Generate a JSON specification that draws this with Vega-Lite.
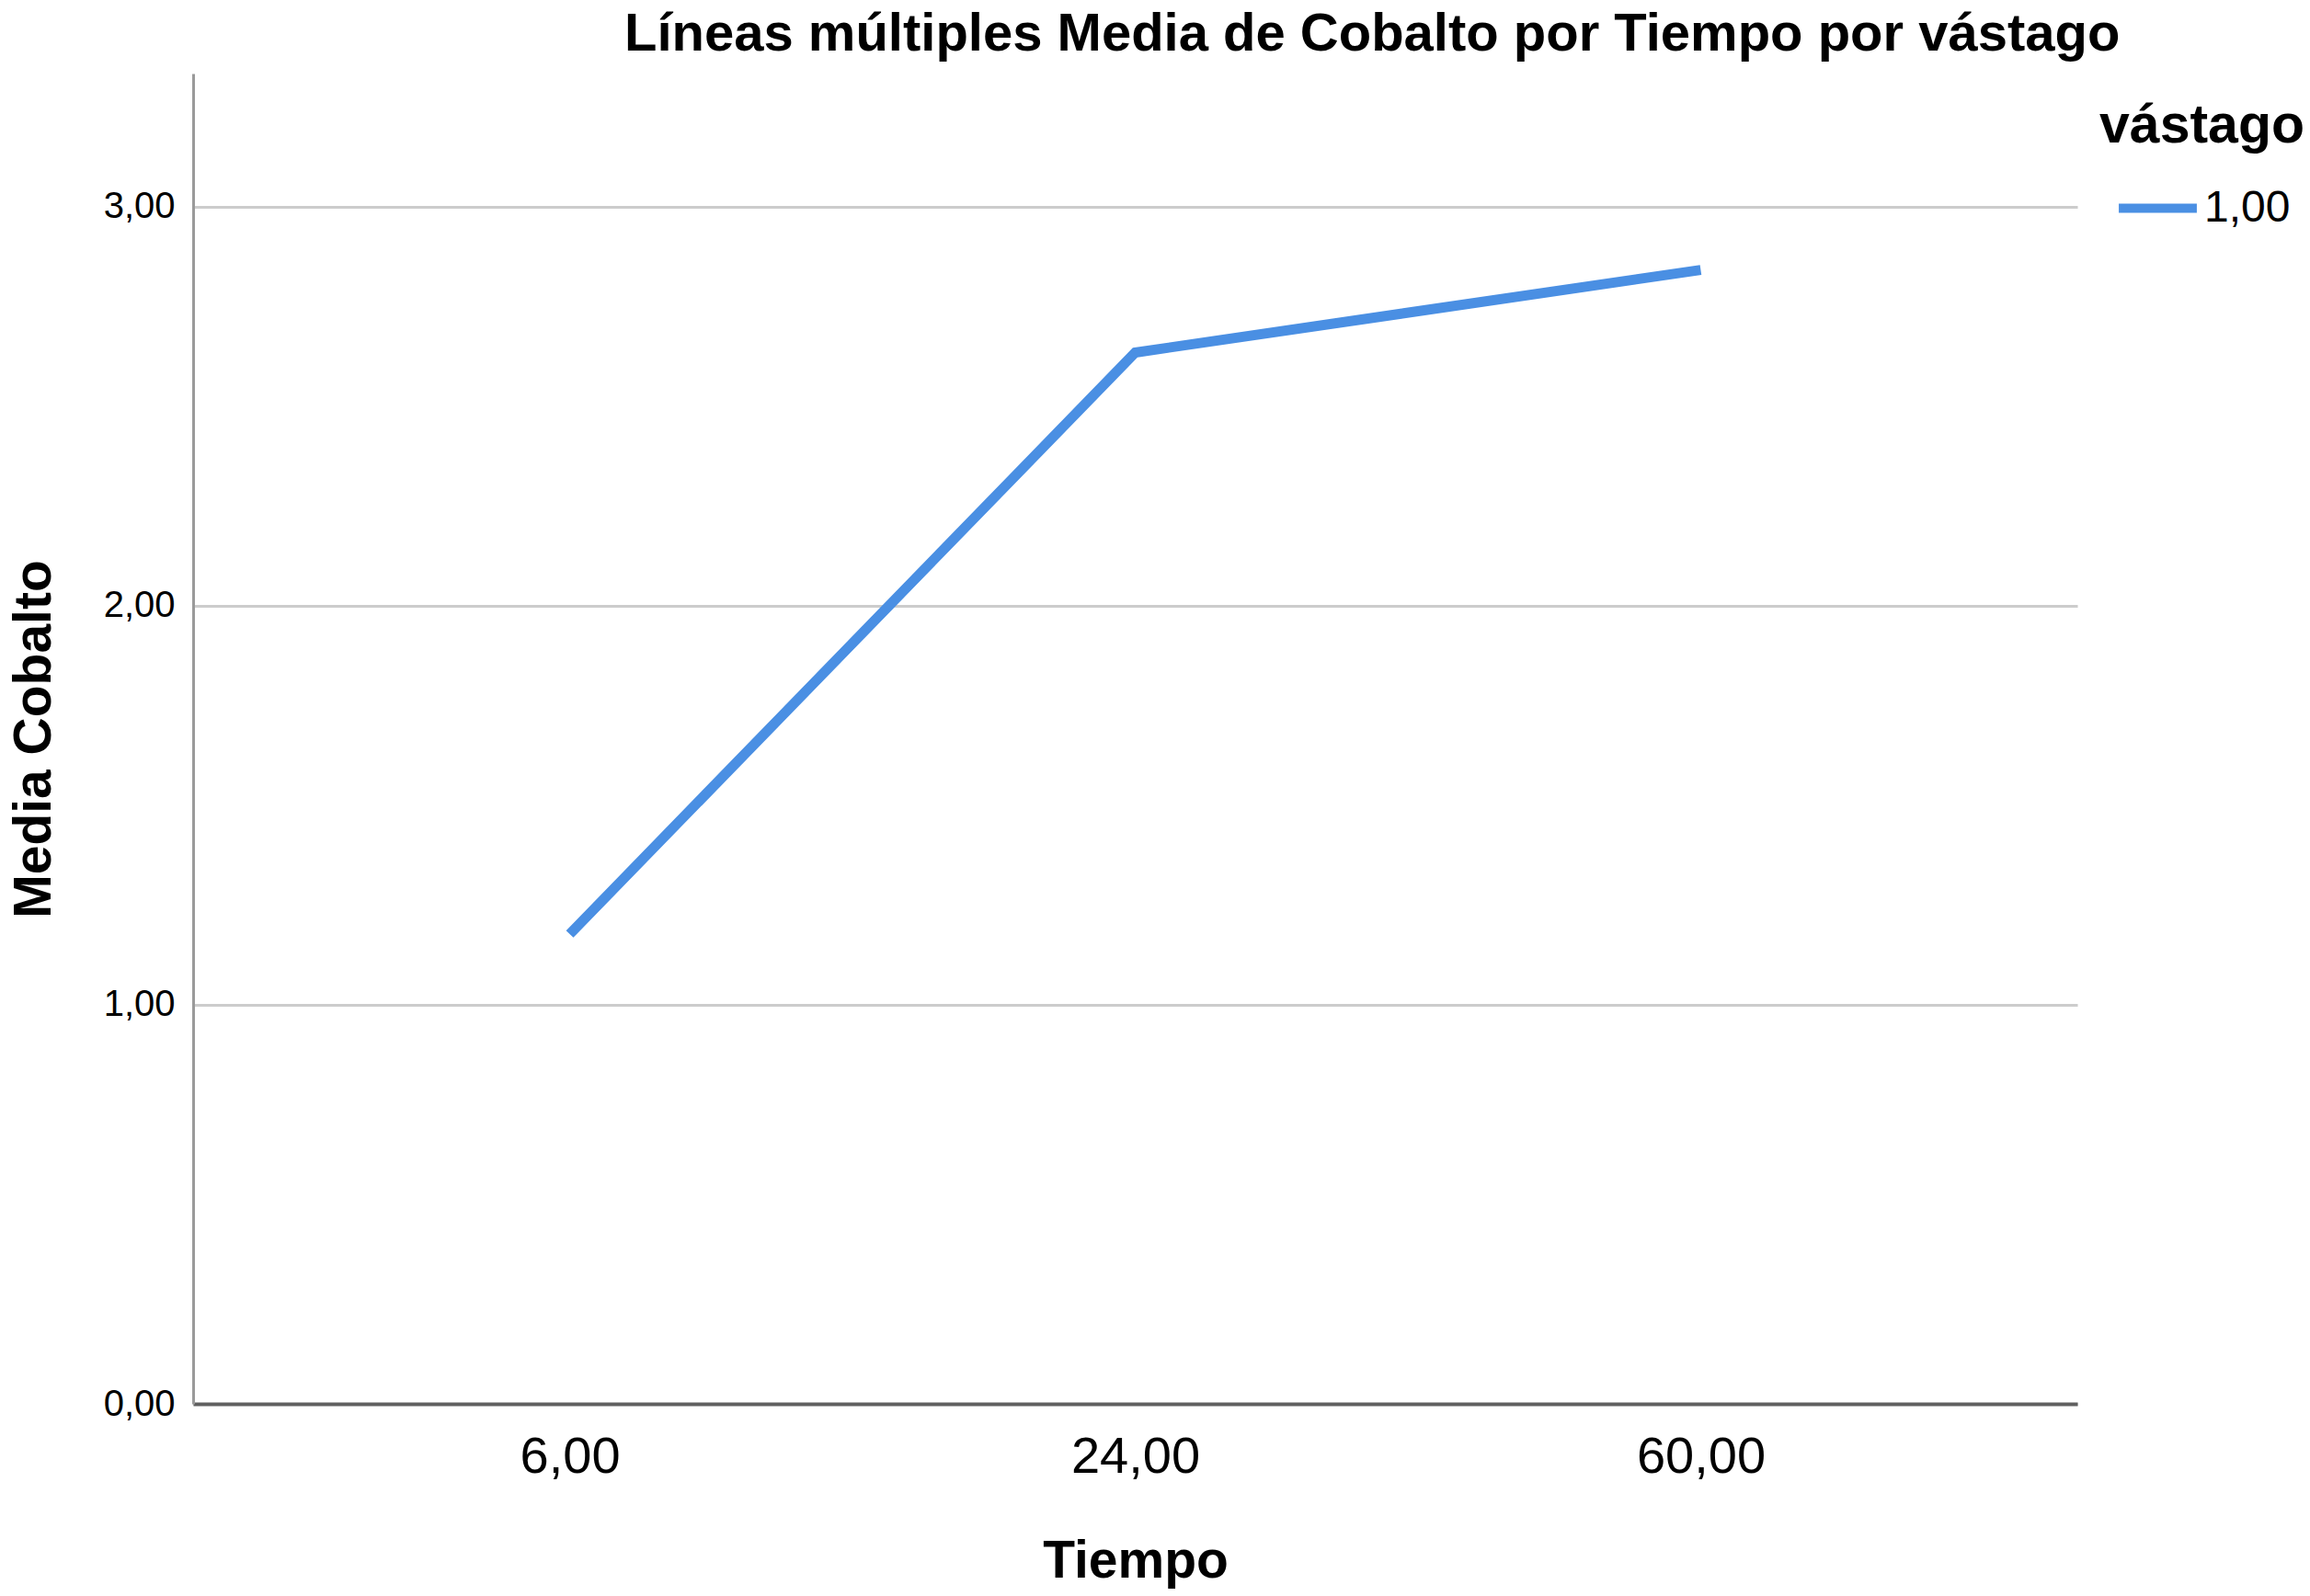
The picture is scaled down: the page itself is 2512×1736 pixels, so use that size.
{
  "$schema": "https://vega.github.io/schema/vega-lite/v6.json",
  "autosize": {"type": "none"},
  "padding": {"left": 210, "top": 80, "right": 253, "bottom": 209},
  "width": 2049,
  "height": 1447,
  "background": "white",
  "title": {
    "text": "Líneas múltiples Media de Cobalto por Tiempo por vástago",
    "font": "Liberation Sans",
    "fontSize": 58,
    "fontWeight": "bold",
    "color": "black",
    "anchor": "start",
    "frame": "group",
    "dx": 469,
    "offset": 13
  },
  "data": {
    "values": [
      {"Tiempo": 6, "Cobalto": 1.177, "vastago": "1,00"},
      {"Tiempo": 24, "Cobalto": 2.634, "vastago": "1,00"},
      {"Tiempo": 60, "Cobalto": 2.841, "vastago": "1,00"}
    ]
  },
  "mark": {"type": "line", "strokeWidth": 11, "strokeCap": "butt"},
  "encoding": {
    "x": {
      "field": "Tiempo",
      "type": "ordinal",
      "sort": "ascending",
      "scale": {"type": "point", "padding": 0.666},
      "axis": {
        "title": "Tiempo",
        "labelExpr": "replace(format(datum.value, '.2f'), '.', ',')",
        "labelAngle": 0,
        "labelFont": "Liberation Sans",
        "labelFontSize": 56,
        "labelColor": "black",
        "labelPadding": 30,
        "ticks": false,
        "domainColor": "#606060",
        "domainWidth": 4,
        "titleFont": "Liberation Sans",
        "titleFontSize": 57,
        "titleFontWeight": "bold",
        "titleColor": "black",
        "titlePadding": 58,
        "grid": false
      }
    },
    "y": {
      "field": "Cobalto",
      "type": "quantitative",
      "scale": {"domain": [0, 3.333], "nice": false},
      "axis": {
        "title": "Media Cobalto",
        "values": [0, 1, 2, 3],
        "labelExpr": "replace(format(datum.value, '.2f'), '.', ',')",
        "labelFont": "Liberation Sans",
        "labelFontSize": 40,
        "labelColor": "black",
        "labelPadding": 20,
        "ticks": false,
        "domainColor": "#9a9a9a",
        "domainWidth": 3,
        "grid": true,
        "gridColor": "#cccccc",
        "gridWidth": 3,
        "titleFont": "Liberation Sans",
        "titleFontSize": 57,
        "titleFontWeight": "bold",
        "titleColor": "black",
        "titlePadding": 46
      }
    },
    "color": {
      "field": "vastago",
      "type": "nominal",
      "scale": {"range": ["#4a8fe3"]},
      "legend": {
        "title": "vástago",
        "orient": "none",
        "legendX": 2073,
        "legendY": 28,
        "titleFont": "Liberation Sans",
        "titleFontSize": 59,
        "titleFontWeight": "bold",
        "titleColor": "black",
        "titleLimit": 1000,
        "titlePadding": 12,
        "labelFont": "Liberation Sans",
        "labelFontSize": 48,
        "labelColor": "black",
        "labelLimit": 1000,
        "symbolType": "stroke",
        "symbolStrokeWidth": 10,
        "symbolSize": 7200,
        "symbolOffset": 16,
        "labelOffset": 3
      }
    }
  },
  "config": {"view": {"stroke": null}}
}
